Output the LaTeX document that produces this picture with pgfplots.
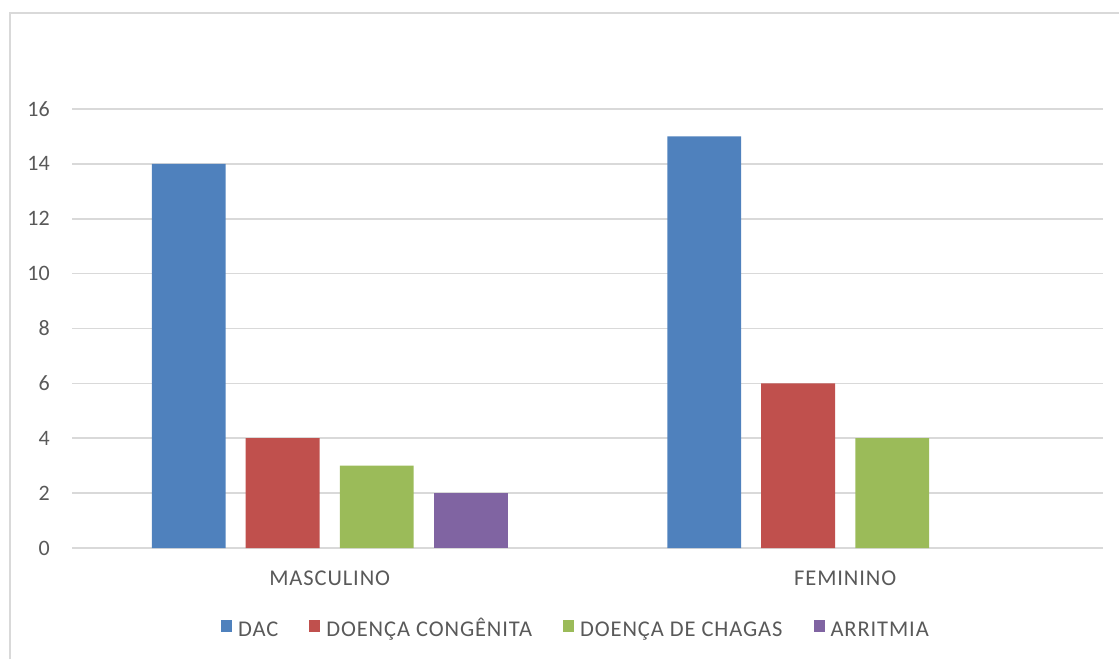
\documentclass[border=0pt]{standalone}
\usepackage{pgfplots}
\pgfplotsset{compat=1.18}
\usepackage{fontspec}
\setmainfont{Carlito}
\newfontfamily\lsfont[LetterSpace=4]{Carlito}
\definecolor{cDAC}{HTML}{4F81BD}
\definecolor{cCON}{HTML}{C0504D}
\definecolor{cCHA}{HTML}{9BBB59}
\definecolor{cARR}{HTML}{8064A2}
\definecolor{txt}{HTML}{595959}
\definecolor{grd}{HTML}{D9D9D9}
\begin{document}
\begin{tikzpicture}[x=1pt,y=1pt]
\useasboundingbox (0,0) rectangle (1119,659);
\draw[grd, line width=2pt] (10,0) -- (10,646) -- (1119,646);
\begin{axis}[
  at={(72pt,111pt)}, anchor=south west,
  width=1031pt, height=439pt, scale only axis,
  xmin=-0.5, xmax=1.5, ymin=0, ymax=16,
  ytick={0,2,...,16},
  xtick={0,1}, xticklabels={MASCULINO,FEMININO},
  ybar, bar width=0.1435,
  axis line style={draw=none},
  major tick length=0pt,
  ymajorgrids, grid style={grd, line width=1.7pt},
  font=\fontsize{22}{26}\selectfont,
  tick label style={text=txt, font=\fontsize{22}{26}\selectfont},
  xticklabel style={font=\lsfont\fontsize{22.5}{26}\selectfont},
  /pgf/number format/assume math mode=true,
  yticklabel style={inner sep=0pt, anchor=east, xshift=-22pt},
  xticklabel style={inner sep=0pt, anchor=north, yshift=-23pt},
  legend columns=4,
  legend style={at={(axis description cs:0.1445,-0.1868)}, anchor=west, draw=none, fill=none, inner sep=0pt,
    nodes={inner sep=0pt, anchor=west, text=txt, text height=14.5pt, text depth=4pt, font=\lsfont\fontsize{22.5}{26}\selectfont},
    /tikz/every even column/.append style={column sep=31pt}},
  legend image code/.code={\fill[#1] (0pt,-1pt) rectangle (11pt,11pt); \path (17pt,0pt);},
]
\addplot[fill=cDAC, draw=none, bar shift=-0.2735] coordinates {(0,14) (1,15)};
\addplot[fill=cCON, draw=none, bar shift=-0.0912] coordinates {(0,4) (1,6)};
\addplot[fill=cCHA, draw=none, bar shift=0.0912] coordinates {(0,3) (1,4)};
\addplot[fill=cARR, draw=none, bar shift=0.2735] coordinates {(0,2)};
\legend{DAC, DOENÇA CONGÊNITA, DOENÇA DE CHAGAS, ARRITMIA}
\end{axis}
\end{tikzpicture}
\end{document}
